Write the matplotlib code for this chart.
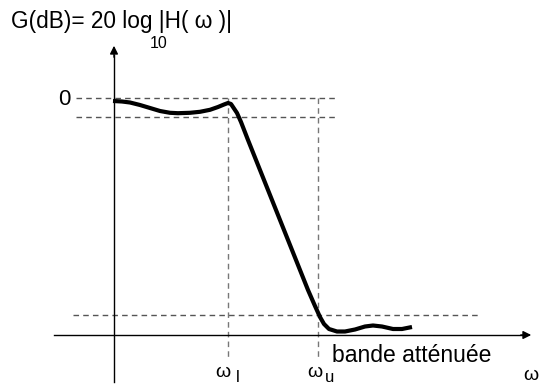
import matplotlib
matplotlib.use('Agg')
import matplotlib.pyplot as plt

plt.rcParams['font.family'] = ['Liberation Sans', 'DejaVu Sans']

# gain curve (pixel coords, y downwards)
curve_x = [113, 122, 130, 140, 150, 160, 170, 178, 190, 200, 210, 218, 224,
           228, 231, 233, 237, 241, 248, 260, 272, 284, 296, 308, 315, 320,
           324, 329, 337, 345, 355, 365, 373, 382, 393, 402, 412]
curve_y = [101, 101.5, 102.5, 105, 108, 111, 112.8, 113.2, 112.8, 111.8,
           109.8, 107, 104.5, 103, 104, 107, 113, 122, 140, 170, 200, 230,
           260, 290, 306, 317, 324, 329, 331.5, 331.5, 329.5, 326.5, 325.5,
           326.5, 329, 329, 327]

# reference levels / frequencies
y_zero = 98
y_ripple = 117
y_stop = 315
x_wl = 228
x_wu = 318
x_axis = 114
y_axis = 335

fig = plt.figure(figsize=(5.39, 3.88), dpi=100)
ax = fig.add_axes([0, 0, 1, 1])
ax.set_xlim(0, 539)
ax.set_ylim(388, 0)
ax.axis('off')

dash = dict(color='#555555', lw=1, ls=(0, (4, 3)))

# dashed guides
ax.plot([76, 336], [y_zero, y_zero], **dash)
ax.plot([76, 336], [y_ripple, y_ripple], **dash)
ax.plot([73, 481], [y_stop, y_stop], **dash)
ax.plot([x_wl, x_wl], [y_zero, 358], color='#777777', lw=1, ls=(0, (4, 3)))
ax.plot([x_wu, x_wu], [y_zero, 358], color='#777777', lw=1, ls=(0, (4, 3)))

# axes with arrows
ax.plot([x_axis, x_axis], [382, 55], color='black', lw=1)
ax.annotate('', xy=(x_axis, 43), xytext=(x_axis, 60),
            arrowprops=dict(arrowstyle='-|>', color='black', lw=1,
                            mutation_scale=12))
ax.plot([54, 522], [y_axis, y_axis], color='black', lw=1)
ax.annotate('', xy=(534, y_axis), xytext=(518, y_axis),
            arrowprops=dict(arrowstyle='-|>', color='black', lw=1,
                            mutation_scale=12))

# gain curve
ax.plot(curve_x, curve_y, color='black', lw=3, solid_joinstyle='round',
        solid_capstyle='butt')

# texts
base = dict(va='baseline')
ax.text(11, 28, 'G(dB)= 20 log |H( ω )|', fontsize=16.3, ha='left', **base)
ax.text(150, 48, '10', fontsize=11.5, ha='left', **base)
ax.text(64, 105, '0', fontsize=16, ha='center', **base)
ax.text(332, 362, 'bande atténuée', fontsize=16.5, ha='left', **base)
ax.text(223, 377, 'ω', fontsize=14, ha='center', **base)
ax.text(236, 382, 'l', fontsize=12, ha='left', **base)
ax.text(315, 377, 'ω', fontsize=14, ha='center', **base)
ax.text(325, 382, 'u', fontsize=12, ha='left', **base)
ax.text(531, 380, 'ω', fontsize=14, ha='center', **base)

fig.savefig('out.png', dpi=100)
